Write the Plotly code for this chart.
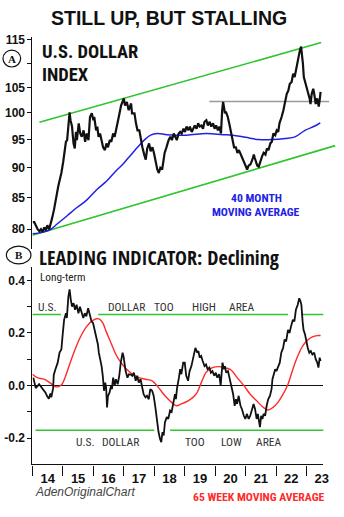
import plotly.graph_objects as go

W, H = 344, 517

# ---------------- data ----------------
# U.S. Dollar Index (weekly closes, decimal years)
dxy_years = [
    2014.01, 2014.06, 2014.12, 2014.17, 2014.23, 2014.28, 2014.33, 2014.39, 2014.44, 2014.49,
    2014.55, 2014.60, 2014.65, 2014.71, 2014.76, 2014.82, 2014.85, 2014.90, 2014.95, 2015.01,
    2015.05, 2015.10, 2015.14, 2015.17, 2015.22, 2015.25, 2015.30, 2015.35, 2015.39, 2015.43,
    2015.46, 2015.52, 2015.57, 2015.62, 2015.68, 2015.73, 2015.78, 2015.84, 2015.89, 2015.95,
    2016.00, 2016.03, 2016.09, 2016.13, 2016.17, 2016.22, 2016.27, 2016.32, 2016.38, 2016.43,
    2016.48, 2016.54, 2016.59, 2016.65, 2016.70, 2016.75, 2016.81, 2016.86, 2016.91, 2016.97,
    2017.00, 2017.04, 2017.10, 2017.16, 2017.20, 2017.24, 2017.27, 2017.35, 2017.40, 2017.45,
    2017.51, 2017.56, 2017.61, 2017.67, 2017.72, 2017.77, 2017.83, 2017.88, 2017.94, 2017.99,
    2018.04, 2018.10, 2018.15, 2018.20, 2018.26, 2018.31, 2018.34, 2018.40, 2018.44, 2018.47,
    2018.53, 2018.58, 2018.64, 2018.69, 2018.74, 2018.80, 2018.85, 2018.90, 2018.96, 2019.01,
    2019.06, 2019.12, 2019.17, 2019.23, 2019.28, 2019.33, 2019.39, 2019.44, 2019.49, 2019.55,
    2019.60, 2019.65, 2019.71, 2019.76, 2019.82, 2019.87, 2019.93, 2019.98, 2020.03, 2020.09,
    2020.14, 2020.19, 2020.23, 2020.26, 2020.29, 2020.32, 2020.35, 2020.41, 2020.46, 2020.52,
    2020.57, 2020.62, 2020.68, 2020.73, 2020.78, 2020.84, 2020.89, 2020.94, 2020.99, 2021.05,
    2021.10, 2021.16, 2021.22, 2021.27, 2021.30, 2021.34, 2021.38, 2021.43, 2021.48, 2021.54,
    2021.59, 2021.65, 2021.70, 2021.75, 2021.81, 2021.86, 2021.91, 2021.97, 2022.02, 2022.07,
    2022.11, 2022.15, 2022.18, 2022.24, 2022.29, 2022.35, 2022.40, 2022.45, 2022.51, 2022.56,
    2022.61, 2022.67, 2022.70, 2022.74, 2022.78, 2022.82, 2022.85, 2022.88, 2022.91, 2022.96,
    2022.99, 2023.04, 2023.10, 2023.13, 2023.17, 2023.22, 2023.26, 2023.30, 2023.35, 2023.40,
    2023.43, 2023.46,
]
dxy_values = [
    81.1, 81.1, 80.5, 80.0, 79.7, 80.0, 79.6, 80.3, 79.8, 80.6,
    80.0, 80.8, 81.8, 83.1, 84.6, 85.8, 86.9, 88.0, 89.1, 91.0,
    93.1, 94.6, 94.9, 96.7, 100.1, 98.6, 97.4, 94.3, 93.4, 96.4,
    94.9, 98.0, 96.1, 95.5, 96.7, 94.6, 96.1, 94.9, 99.2, 99.9,
    98.6, 99.2, 96.7, 97.4, 95.5, 96.1, 94.9, 93.6, 93.1, 94.3,
    93.6, 94.9, 94.6, 96.1, 95.5, 96.7, 98.3, 99.9, 101.4, 102.4,
    102.8, 101.4, 102.1, 100.5, 101.1, 101.8, 99.9, 99.9, 98.0, 96.7,
    96.7, 94.9, 93.6, 92.3, 91.4, 93.4, 94.3, 92.9, 93.6, 92.6,
    91.1, 89.7, 89.1, 90.0, 89.7, 91.4, 92.6, 93.6, 94.3, 94.9,
    95.5, 94.9, 96.1, 95.5, 94.9, 96.1, 96.4, 96.1, 97.0, 96.4,
    97.4, 96.7, 97.4, 96.4, 97.0, 97.6, 97.0, 98.0, 97.4, 97.6,
    97.0, 98.3, 98.6, 97.6, 98.3, 97.4, 98.0, 97.0, 97.6, 96.7,
    97.4, 96.1, 100.5, 102.1, 101.1, 99.9, 100.2, 99.3, 98.0, 96.4,
    95.0, 93.6, 93.6, 92.6, 93.1, 92.3, 91.7, 91.0, 90.4, 89.7,
    90.4, 90.6, 91.4, 92.3, 91.7, 91.0, 90.4, 90.2, 91.1, 92.0,
    92.6, 92.3, 93.4, 93.1, 94.3, 94.6, 96.1, 95.8, 96.7, 96.4,
    98.0, 98.6, 99.2, 100.5, 101.7, 103.7, 104.3, 105.7, 106.1, 107.8,
    107.1, 109.2, 110.2, 111.2, 112.7, 113.5, 111.9, 109.9, 107.1, 105.7,
    105.0, 104.1, 102.8, 101.7, 103.7, 104.7, 103.4, 101.7, 102.8, 101.2,
    102.4, 104.1,
]

# 40 month moving average of the index
ma40_years = [
    2014.00, 2014.39, 2014.60, 2014.81, 2015.14, 2015.46, 2015.78, 2016.11, 2016.43, 2016.75,
    2016.97, 2017.13, 2017.29, 2017.45, 2017.67, 2017.88, 2018.10, 2018.42, 2019.06, 2019.71,
    2020.25, 2020.57, 2021.00, 2021.43, 2021.87, 2022.30, 2022.62, 2022.95, 2023.27, 2023.45,
]
ma40_values = [
    79.3, 79.6, 80.0, 80.8, 82.1, 83.4, 84.6, 86.3, 87.7, 89.5,
    90.6, 91.6, 92.6, 93.6, 94.9, 95.8, 96.1, 95.9, 95.8, 96.1,
    95.9, 95.8, 95.4, 95.0, 95.0, 95.2, 95.5, 96.7, 97.5, 98.1,
]

# Upward channel and prior-high reference line
channel_upper_years = [2014.23, 2023.48]
channel_upper_values = [98.2, 114.4]
channel_lower_years = [2014.00, 2023.94]
channel_lower_values = [79.1, 93.9]
prior_high_years = [2019.81, 2023.74]
prior_high_values = [102.2, 102.2]

# Long-term leading indicator
ind_years = [
    2014.03, 2014.11, 2014.22, 2014.32, 2014.43, 2014.48, 2014.54, 2014.59, 2014.62, 2014.68,
    2014.70, 2014.75, 2014.83, 2014.89, 2014.95, 2014.99, 2015.04, 2015.10, 2015.13, 2015.18,
    2015.22, 2015.26, 2015.30, 2015.35, 2015.40, 2015.45, 2015.51, 2015.56, 2015.61, 2015.67,
    2015.72, 2015.77, 2015.83, 2015.88, 2015.94, 2015.99, 2016.04, 2016.10, 2016.15, 2016.18,
    2016.23, 2016.27, 2016.31, 2016.35, 2016.39, 2016.42, 2016.45, 2016.48, 2016.53, 2016.58,
    2016.61, 2016.65, 2016.70, 2016.74, 2016.80, 2016.85, 2016.90, 2016.96, 2016.99, 2017.03,
    2017.06, 2017.12, 2017.17, 2017.23, 2017.28, 2017.33, 2017.39, 2017.44, 2017.49, 2017.55,
    2017.60, 2017.65, 2017.71, 2017.76, 2017.82, 2017.87, 2017.93, 2017.98, 2018.03, 2018.09,
    2018.14, 2018.19, 2018.23, 2018.27, 2018.31, 2018.35, 2018.41, 2018.46, 2018.52, 2018.57,
    2018.62, 2018.68, 2018.71, 2018.75, 2018.81, 2018.85, 2018.89, 2018.95, 2019.00, 2019.05,
    2019.11, 2019.16, 2019.22, 2019.27, 2019.32, 2019.35, 2019.41, 2019.45, 2019.49, 2019.54,
    2019.59, 2019.65, 2019.70, 2019.75, 2019.81, 2019.86, 2019.91, 2019.97, 2020.02, 2020.07,
    2020.13, 2020.18, 2020.24, 2020.29, 2020.32, 2020.36, 2020.42, 2020.48, 2020.53, 2020.59,
    2020.64, 2020.68, 2020.72, 2020.77, 2020.83, 2020.88, 2020.94, 2020.99, 2021.04, 2021.10,
    2021.15, 2021.20, 2021.26, 2021.31, 2021.36, 2021.40, 2021.44, 2021.47, 2021.51, 2021.55,
    2021.59, 2021.64, 2021.69, 2021.74, 2021.80, 2021.85, 2021.88, 2021.93, 2021.97, 2022.01,
    2022.06, 2022.12, 2022.17, 2022.23, 2022.28, 2022.33, 2022.39, 2022.44, 2022.49, 2022.55,
    2022.60, 2022.65, 2022.71, 2022.76, 2022.80, 2022.83, 2022.87, 2022.90, 2022.95, 2023.00,
    2023.04, 2023.09, 2023.14, 2023.19, 2023.25, 2023.30, 2023.35, 2023.39, 2023.43, 2023.46,
]
ind_values = [
    0.030, -0.010, 0.005, -0.010, -0.027, -0.040, -0.050, -0.030, -0.045, -0.010,
    0.040, 0.060, 0.087, 0.125, 0.137, 0.190, 0.250, 0.275, 0.257, 0.338,
    0.366, 0.326, 0.300, 0.313, 0.288, 0.307, 0.275, 0.300, 0.282, 0.257,
    0.275, 0.263, 0.294, 0.275, 0.244, 0.238, 0.212, 0.175, 0.156, 0.125,
    0.100, 0.074, 0.037, -0.020, 0.011, -0.008, -0.083, -0.040, -0.027, -0.001,
    -0.014, 0.030, 0.000, 0.024, 0.005, 0.037, 0.087, 0.125, 0.112, 0.074,
    0.055, 0.030, 0.043, 0.042, 0.037, 0.049, 0.018, 0.037, 0.011, 0.024,
    -0.008, -0.033, -0.045, -0.039, -0.052, -0.014, -0.020, -0.039, -0.077, -0.140,
    -0.177, -0.203, -0.215, -0.177, -0.190, -0.140, -0.120, -0.127, -0.095, -0.100,
    -0.064, -0.033, -0.052, -0.008, 0.030, 0.062, 0.043, 0.087, 0.087, 0.037,
    0.018, 0.055, 0.074, 0.100, 0.125, 0.143, 0.125, 0.131, 0.106, 0.112,
    0.093, 0.074, 0.080, 0.062, 0.068, 0.049, 0.055, 0.037, 0.049, 0.030,
    0.043, 0.000, 0.087, 0.062, 0.074, 0.049, 0.055, 0.024, -0.008, -0.033,
    -0.077, -0.052, -0.070, -0.039, -0.077, -0.090, -0.115, -0.127, -0.108, -0.127,
    -0.115, -0.090, -0.070, -0.090, -0.127, -0.108, -0.140, -0.158, -0.115, -0.127,
    -0.108, -0.115, -0.077, -0.052, -0.039, -0.014, 0.024, 0.049, 0.062, 0.055,
    0.068, 0.087, 0.125, 0.143, 0.175, 0.168, 0.212, 0.200, 0.225, 0.250,
    0.244, 0.288, 0.307, 0.332, 0.320, 0.307, 0.244, 0.212, 0.194, 0.162,
    0.143, 0.125, 0.131, 0.118, 0.125, 0.100, 0.087, 0.068, 0.106, 0.093,
]

# 65 week moving average of the indicator
ma65_years = [
    2014.00, 2014.16, 2014.38, 2014.59, 2014.75, 2014.86, 2014.97, 2015.07, 2015.24, 2015.40,
    2015.56, 2015.77, 2015.94, 2016.10, 2016.20, 2016.31, 2016.42, 2016.58, 2016.74, 2016.90,
    2017.06, 2017.28, 2017.49, 2017.71, 2017.93, 2018.14, 2018.35, 2018.57, 2018.73, 2018.89,
    2019.11, 2019.27, 2019.39, 2019.54, 2019.70, 2019.91, 2020.13, 2020.29, 2020.51, 2020.72,
    2020.94, 2021.15, 2021.36, 2021.58, 2021.74, 2021.90, 2022.06, 2022.23, 2022.39, 2022.55,
    2022.71, 2022.87, 2023.03, 2023.19, 2023.35, 2023.46,
]
ma65_values = [
    0.043, 0.030, 0.024, 0.009, -0.004, -0.004, 0.005, 0.030, 0.087, 0.137,
    0.181, 0.223, 0.244, 0.254, 0.253, 0.238, 0.206, 0.162, 0.118, 0.088,
    0.066, 0.044, 0.030, 0.024, 0.018, -0.008, -0.039, -0.064, -0.077, -0.070,
    -0.058, -0.045, -0.030, 0.010, 0.050, 0.068, 0.072, 0.068, 0.060, 0.030,
    0.000, -0.033, -0.058, -0.083, -0.093, -0.083, -0.064, -0.033, 0.005, 0.062,
    0.112, 0.150, 0.172, 0.185, 0.190, 0.190,
]

# "too high" / "too low" zones of the indicator, with the stretches they are drawn over
high_zone = 0.27
high_zone_spans = [(2014.00, 2014.94), (2016.16, 2022.39), (2022.84, 2023.58)]
low_zone = -0.17
low_zone_spans = [(2014.10, 2018.00), (2018.52, 2023.58)]

year_ticks = [2014, 2015, 2016, 2017, 2018, 2019, 2020, 2021, 2022, 2023]
year_labels = ["14", "15", "16", "17", "18", "19", "20", "21", "22", "23"]

dxy_ticks = [80, 85, 90, 95, 100, 105, 110, 115]
dxy_tick_labels = ["80", "85", "90", "95", "100", "105", "", "115"]
ind_ticks = [-0.2, -0.1, 0.0, 0.1, 0.2, 0.3, 0.4]
ind_tick_labels = ["-0.2", "", "0.0", "", "0.2", "", "0.4"]

# ---------------- styling ----------------
COND = "Roboto Condensed, Liberation Sans, Arial, sans-serif"
XCOND = "Open Sans Condensed, Roboto Condensed, Liberation Sans, sans-serif"
SANS = "Liberation Sans, Arial, sans-serif"
SERIF = "Liberation Serif, Times New Roman, serif"
GREEN = "#2ec52e"
BLACK = "#111111"
BLUE = "#2121e6"
RED = "#ff2a2a"


def px_x(p):
    return p / W


def px_y(p):
    return 1 - p / H


def zone_trace(level, spans, xaxis, yaxis):
    xs, ys = [], []
    for a, b in spans:
        xs += [a, b, None]
        ys += [level, level, None]
    return go.Scatter(x=xs, y=ys, mode="lines", line=dict(color=GREEN, width=1.6),
                      xaxis=xaxis, yaxis=yaxis, hoverinfo="skip", showlegend=False)


fig = go.Figure()

# ---- panel A: dollar index ----
fig.add_trace(go.Scatter(x=prior_high_years, y=prior_high_values, mode="lines",
                         line=dict(color="#9a9a9a", width=1.4), xaxis="x", yaxis="y"))
fig.add_trace(go.Scatter(x=channel_upper_years, y=channel_upper_values, mode="lines",
                         line=dict(color=GREEN, width=1.6), xaxis="x", yaxis="y"))
fig.add_trace(go.Scatter(x=channel_lower_years, y=channel_lower_values, mode="lines",
                         line=dict(color=GREEN, width=1.6), xaxis="x", yaxis="y"))
fig.add_trace(go.Scatter(x=ma40_years, y=ma40_values, mode="lines",
                         line=dict(color=BLUE, width=1.5, shape="spline"), xaxis="x", yaxis="y"))
fig.add_trace(go.Scatter(x=dxy_years, y=dxy_values, mode="lines",
                         line=dict(color=BLACK, width=2.2), xaxis="x", yaxis="y"))

# ---- panel B: leading indicator ----
fig.add_trace(zone_trace(high_zone, high_zone_spans, "x2", "y2"))
fig.add_trace(zone_trace(low_zone, low_zone_spans, "x2", "y2"))
fig.add_trace(go.Scatter(x=ma65_years, y=ma65_values, mode="lines",
                         line=dict(color=RED, width=1.4, shape="spline"), xaxis="x2", yaxis="y2"))
fig.add_trace(go.Scatter(x=ind_years, y=ind_values, mode="lines",
                         line=dict(color=BLACK, width=1.8), xaxis="x2", yaxis="y2"))

tick_font = dict(family=SANS, size=12, color=BLACK, weight="bold")

fig.update_layout(
    width=W, height=H,
    margin=dict(l=0, r=0, t=0, b=0),
    paper_bgcolor="white", plot_bgcolor="white",
    showlegend=False,
    xaxis=dict(domain=[px_x(33), px_x(343)], range=[2014, 2024], visible=False,
               anchor="y"),
    yaxis=dict(domain=[px_y(247), px_y(33)], type="log",
               range=[1.88657, 2.06329], anchor="x",
               showline=True, linecolor=BLACK, linewidth=1, showgrid=False,
               zeroline=False, ticks="outside", ticklen=4, tickcolor=BLACK,
               tickvals=dxy_ticks, ticktext=dxy_tick_labels,
               tickfont=tick_font),
    xaxis2=dict(domain=[px_x(33), px_x(329)], range=[2014, 2023.548], anchor="y2",
                showline=True, linecolor=BLACK, linewidth=1.2, showgrid=False,
                zeroline=False, ticks="",
                tickvals=[y + 0.5 for y in year_ticks], ticktext=year_labels,
                tickfont=dict(family=SANS, size=13, color=BLACK, weight="bold"),
                ticklabelstandoff=2,
                minor=dict(tickmode="array", tickvals=year_ticks, ticks="outside",
                           ticklen=10, tickcolor=BLACK, tickwidth=1.2, showgrid=False)),
    yaxis2=dict(domain=[px_y(464), px_y(265)], range=[-0.300, 0.451], anchor="x2",
                showline=True, linecolor=BLACK, linewidth=1, showgrid=False,
                zeroline=True, zerolinecolor=BLACK, zerolinewidth=1.2,
                ticks="outside", ticklen=4, tickcolor=BLACK,
                tickvals=ind_ticks, ticktext=ind_tick_labels, tickfont=tick_font),
)


def note(text, x, y, size, family=COND, color=BLACK, xanchor="left", yanchor="middle"):
    fig.add_annotation(text=text, x=px_x(x), y=px_y(y), xref="paper", yref="paper",
                       xanchor=xanchor, yanchor=yanchor, showarrow=False,
                       font=dict(family=family, size=size, color=color))


note("<b>STILL UP, BUT STALLING</b>", 172, 14, 19.5, family=SANS, xanchor="center")
note("<b>U.S. DOLLAR</b>", 41, 48.5, 18.5)
note("<b>INDEX</b>", 41, 71.5, 18.5)
note("<b>40 MONTH</b>", 261, 196, 11.7, color=BLUE, xanchor="center")
note("<b>MOVING AVERAGE</b>", 261, 210, 11.7, color=BLUE, xanchor="center")

note("<b>LEADING INDICATOR: Declining</b>", 38, 255, 20, family=XCOND)
note("Long-term", 39, 276, 11.3, color="#222222")
for word, x in [("U.S.", 48), ("DOLLAR", 129), ("TOO", 167), ("HIGH", 208), ("AREA", 246)]:
    note(word, x, 305, 11.5, color="#333333", xanchor="center")
for word, x in [("U.S.", 87), ("DOLLAR", 123), ("TOO", 198), ("LOW", 236), ("AREA", 273)]:
    note(word, x, 441, 11.5, color="#333333", xanchor="center")

note("<i>AdenOriginalChart</i>", 34, 492, 12, family=SANS, color="#444444")
note("<b>65 WEEK MOVING AVERAGE</b>", 332, 497, 11.7, color=RED, xanchor="right")

# circled panel markers
for letter, cx, cy, rx, ry in [("A", 12, 55, 9, 8.5), ("B", 19, 253, 12.5, 9)]:
    fig.add_shape(type="circle", xref="paper", yref="paper",
                  x0=px_x(cx - rx), x1=px_x(cx + rx), y0=px_y(cy + ry), y1=px_y(cy - ry),
                  line=dict(color=BLACK, width=1.2))
    note(f"<b>{letter}</b>", cx, cy, 11, family=SERIF, color=BLACK, xanchor="center")

fig.write_html("out.html")
